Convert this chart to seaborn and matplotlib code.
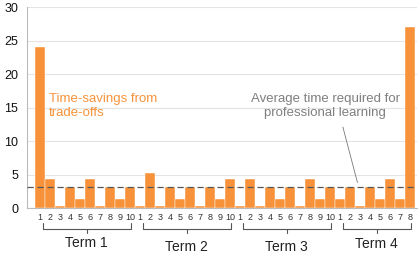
import pandas as pd
import matplotlib
matplotlib.use("Agg")
import matplotlib.pyplot as plt
import matplotlib.transforms as mtransforms
import seaborn as sns

# hours per week
term_names = ["Term 1", "Term 2", "Term 3", "Term 4"]
term1 = [24, 4.3, 0.25, 3.2, 1.3, 4.3, 0.25, 3.2, 1.3, 3.2]
term2 = [0.25, 5.3, 0.25, 3.2, 1.3, 3.2, 0.25, 3.2, 1.3, 4.3]
term3 = [0.25, 4.3, 0.25, 3.2, 1.3, 3.2, 0.25, 4.3, 1.3, 3.2]
term4 = [1.3, 3.2, 0.25, 3.2, 1.3, 4.3, 1.3, 27]
avg_required = 3.2

terms = [term1, term2, term3, term4]
rows = []
for name, vals in zip(term_names, terms):
    for wk, v in enumerate(vals, start=1):
        rows.append({"term": name, "week": wk, "hours": v})
df = pd.DataFrame(rows)
df["pos"] = range(len(df))

sns.set_style("white")
plt.rcParams["font.family"] = ["Liberation Sans", "DejaVu Sans"]

orange = "#F7923A"
fig = plt.figure(figsize=(4.18, 2.73), dpi=100)
ax = fig.add_axes([0.065, 0.238, 0.933, 0.736])

sns.barplot(data=df, x="pos", y="hours", color=orange, width=1.0,
            edgecolor="white", linewidth=0.3, saturation=1, ax=ax, zorder=2)

ax.set_ylim(0, 30)
ax.set_yticks(range(0, 31, 5))
ax.set_xlim(-1.3, len(df) - 0.3)
ax.set_xticks(df["pos"])
ax.set_xticklabels(df["week"].astype(str), fontsize=6.5, color="#333333")
ax.tick_params(axis="x", length=0, pad=3.5)
ax.tick_params(axis="y", labelsize=9, length=3.5, width=0.7, color="#aaaaaa", pad=3, labelcolor="#111111")
ax.set_xlabel("")
ax.set_ylabel("")
ax.yaxis.grid(True, color="#e4e4e4", lw=0.8, zorder=0)
ax.set_axisbelow(True)
for s in ["top", "right"]:
    ax.spines[s].set_visible(False)
for s in ["left", "bottom"]:
    ax.spines[s].set_color("#bbbbbb")
    ax.spines[s].set_linewidth(0.8)

ax.axhline(avg_required, color="#555555", lw=0.9, ls=(0, (5, 3)), zorder=3)

# term brackets under the week labels
trans = mtransforms.blended_transform_factory(ax.transData, ax.transAxes)
start = 0
label_y = [-0.172, -0.192, -0.192, -0.178]
for name, vals, ly in zip(term_names, terms, label_y):
    x0 = start + 0.25
    x1 = start + len(vals) - 1 + 0.05
    xm = (x0 + x1) / 2
    ax.plot([x0, x0, x1, x1], [-0.075, -0.105, -0.105, -0.075], color="#555555",
            lw=0.8, transform=trans, clip_on=False)
    ax.plot([xm, xm], [-0.105, -0.124], color="#555555", lw=0.8,
            transform=trans, clip_on=False)
    ax.text(xm, ly, name, transform=trans, ha="center", va="center",
            fontsize=10, color="#222222")
    start += len(vals)

ax.text(0.9, 15.2, "Time-savings from\ntrade-offs", color=orange, fontsize=9.5,
        ha="left", va="center", linespacing=1.2)
ax.text(28.5, 15.2, "Average time required for\nprofessional learning", color="#7f7f7f",
        fontsize=9.5, ha="center", va="center", linespacing=1.2)
ax.annotate("", xy=(31.8, 3.4), xytext=(30.2, 12.5),
            arrowprops=dict(arrowstyle="-", color="#777777", lw=0.6))

fig.savefig("out.png", dpi=100)
